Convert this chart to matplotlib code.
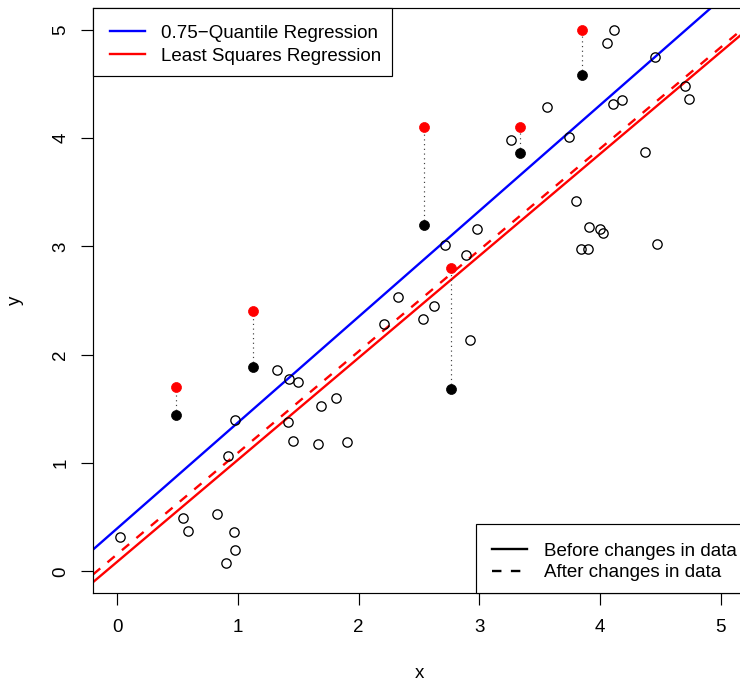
import matplotlib
matplotlib.use("Agg")
import matplotlib.pyplot as plt
from matplotlib.patches import Rectangle
from matplotlib.lines import Line2D
import numpy as np

plt.rcParams["font.family"] = ["Liberation Sans", "DejaVu Sans"]

# Unchanged observations (open circles)
x_open = [0.02, 0.549, 0.587, 0.825, 0.968, 0.976, 0.902, 0.918, 0.979, 1.327,
          1.426, 1.497, 1.418, 1.456, 1.691, 1.815, 1.663, 1.906,
          2.206, 2.327, 2.534, 2.625, 2.719, 2.890, 2.981, 2.920,
          3.262, 3.562, 3.742, 3.802, 3.910, 3.998, 4.023, 3.838, 3.896,
          4.056, 4.117, 4.108, 4.180, 4.370, 4.453, 4.470, 4.701, 4.734]
y_open = [0.318, 0.494, 0.368, 0.528, 0.359, 0.198, 0.073, 1.063, 1.395, 1.863,
          1.780, 1.749, 1.380, 1.202, 1.528, 1.601, 1.174, 1.192,
          2.279, 2.531, 2.325, 2.450, 3.008, 2.916, 3.158, 2.134,
          3.980, 4.284, 4.010, 3.420, 3.180, 3.161, 3.119, 2.977, 2.977,
          4.878, 4.998, 4.318, 4.352, 3.869, 4.749, 3.023, 4.481, 4.358]

# Observations whose response was changed
x_moved = [0.488, 1.125, 2.539, 2.766, 3.339, 3.847]
y_before = [1.44, 1.89, 3.20, 1.68, 3.86, 4.58]
y_after = [1.70, 2.40, 4.10, 2.80, 4.10, 5.00]

# Fitted lines: (intercept, slope)
qr_fit = (0.396, 0.977)
ls_before = (0.088, 0.9414)
ls_after = (0.158, 0.936)

legend_fits = ["0.75\u2212Quantile Regression", "Least Squares Regression"]
legend_data = ["Before changes in data", "After changes in data"]

W, H = 740, 686
fig = plt.figure(figsize=(W / 100, H / 100), dpi=100)
L, R, T, B = 93, 745, 8, 593
ax = fig.add_axes([L / W, (H - B) / H, (R - L) / W, (B - T) / H])
ax.set_xlim(-0.2, 5.2)
ax.set_ylim(-0.2, 5.2)

fs = 13.5
lw_fit = 1.7

xx = np.array([-0.2, 5.2])
ax.plot(xx, qr_fit[0] + qr_fit[1] * xx, color="blue", lw=lw_fit, zorder=2)
ax.plot(xx, ls_before[0] + ls_before[1] * xx, color="red", lw=lw_fit, zorder=2)
ax.plot(xx, ls_after[0] + ls_after[1] * xx, color="red", lw=lw_fit,
        dashes=(4, 4), zorder=2)

for xm, yb, ya in zip(x_moved, y_before, y_after):
    ax.plot([xm, xm], [yb, ya], color="0.25", lw=0.85,
            linestyle=(0, (1, 3)), zorder=3)

ax.plot(x_open, y_open, linestyle="none", marker="o", ms=6.7,
        mfc="none", mec="black", mew=0.95, zorder=4)
ax.plot(x_moved, y_before, linestyle="none", marker="o", ms=7.2,
        color="black", mew=0.5, zorder=4)
ax.plot(x_moved, y_after, linestyle="none", marker="o", ms=7.2,
        color="red", mew=0.5, zorder=4)

ticks = [0, 1, 2, 3, 4, 5]
ax.set_xticks(ticks)
ax.set_yticks(ticks)
ax.set_xticklabels([str(t) for t in ticks])
ax.set_yticklabels([str(t) for t in ticks])
ax.tick_params(direction="out", length=8.3, width=0.85, labelsize=fs,
               color="black")
ax.tick_params(axis="x", pad=10.5)
ax.tick_params(axis="y", pad=8.8)
for lab in ax.get_yticklabels():
    lab.set_rotation(90)
    lab.set_va("center")
for sp in ax.spines.values():
    sp.set_linewidth(0.85)


def fx(px):
    return px / W


def fy(py):
    return 1 - py / H


fig.text(fx(419), fy(678), "x", fontsize=fs, ha="center", va="baseline")
fig.text(fx(19.8), fy(300.5), "y", fontsize=fs, rotation=90,
         rotation_mode="anchor", ha="center", va="baseline")


def draw_legend(x0, y0, x1, y1, rows, line_x0, line_x1, text_x):
    fig.add_artist(Rectangle((fx(x0), fy(y1)), fx(x1) - fx(x0), fy(y0) - fy(y1),
                             transform=fig.transFigure, facecolor="white",
                             edgecolor="black", lw=0.85, zorder=10))
    for ry, label, color, dashed in rows:
        kw = dict(dashes=(4, 4)) if dashed else {}
        fig.add_artist(Line2D([fx(line_x0), fx(line_x1)], [fy(ry), fy(ry)],
                              transform=fig.transFigure, color=color,
                              lw=lw_fit, zorder=11, **kw))
        fig.text(fx(text_x), fy(ry + 6.7), label, fontsize=fs, ha="left",
                 va="baseline", zorder=12)


draw_legend(93, 8, 392, 76,
            [(31, legend_fits[0], "blue", False),
             (54, legend_fits[1], "red", False)],
            110, 145, 161)
draw_legend(476, 524.3, 745, 593,
            [(549, legend_data[0], "black", False),
             (570.7, legend_data[1], "black", True)],
            492.3, 527.3, 544)

fig.savefig("out.png", dpi=100)
